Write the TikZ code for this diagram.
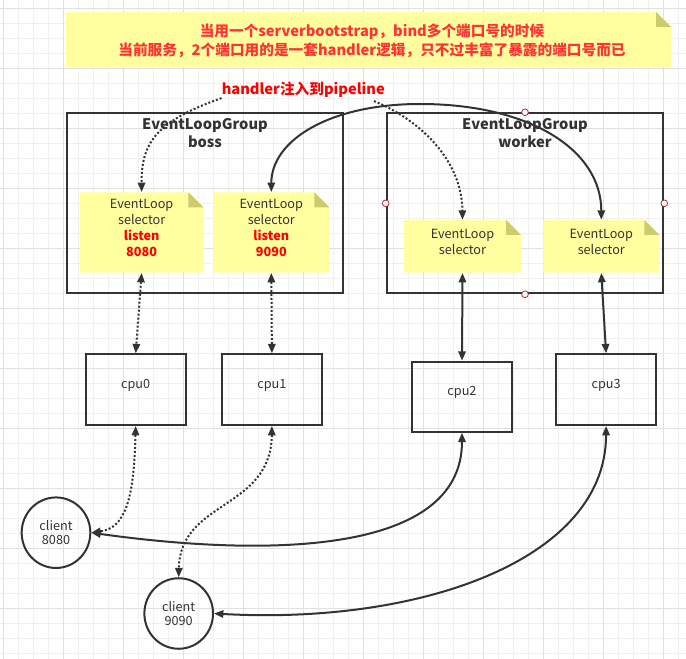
\documentclass[tikz,border=0pt]{standalone}
\usepackage{fontspec}
\setmainfont{Noto Sans CJK SC}
\usetikzlibrary{arrows.meta,shapes.geometric,fit,calc}
\definecolor{notefill}{HTML}{FFFFA0}
\definecolor{foldfill}{HTML}{CCCC6E}
\definecolor{inkc}{HTML}{333333}
\definecolor{topred}{HTML}{FF3333}
\definecolor{lred}{HTML}{FF0000}
\definecolor{gridminor}{HTML}{F0F0F0}
\definecolor{gridmajor}{HTML}{E0E0E0}
\definecolor{handlec}{HTML}{B03030}
\newcommand\notebg[5]{%
  \fill[notefill] (#1,#2) -- (#3-#5,#2) -- (#3,#2+#5) -- (#3,#4) -- (#1,#4) -- cycle;
  \fill[foldfill] (#3-#5,#2) -- (#3-#5,#2+#5) -- (#3,#2+#5) -- cycle;}
\tikzset{
  lk/.style={draw=inkc, line width=1.5pt},
  both/.style={lk, {Triangle[length=7pt,width=5.5pt]}-{Triangle[length=7pt,width=5.5pt]}},
  fwd/.style={lk, -{Triangle[length=7pt,width=5.5pt]}},
  dotline/.style={dash pattern=on 1.5pt off 1.5pt},
  body/.style={font=\fontsize{9.5}{12}\selectfont, text=inkc, align=center},
  grptitle/.style={font=\fontsize{11}{13.5}\selectfont\bfseries, text=inkc, align=center, inner sep=0pt},
  redbold/.style={font=\fontsize{11}{14.25}\selectfont\bfseries, inner sep=0pt, align=center},
  boxline/.style={draw=inkc, line width=1.5pt, inner sep=0pt},
  cpubox/.style={boxline, body},
  client/.style={ellipse, draw=inkc, line width=1.5pt, inner sep=0pt, minimum width=51.5pt, minimum height=52.9pt, font=\fontsize{9.5}{11}\selectfont, text=inkc, align=center},
  notebox/.style={inner sep=0pt, body},
  handle/.style={draw=handlec, fill=white, line width=0.6pt}
}
\begin{document}
\begin{tikzpicture}[x=0.75pt,y=-0.75pt]
\useasboundingbox (0,0) rectangle (686,659);
\fill[white] (0,0) rectangle (686,659);
% grid
\foreach \i in {0,...,45} \draw[gridminor, line width=0.75pt] (3.3+15*\i,0) -- (3.3+15*\i,659);
\foreach \j in {0,...,43} \draw[gridminor, line width=0.75pt] (0,8.3+15*\j) -- (686,8.3+15*\j);
\foreach \i in {0,...,11} \draw[gridmajor, line width=0.75pt] (3.3+60*\i,0) -- (3.3+60*\i,659);
\foreach \j in {0,...,10} \draw[gridmajor, line width=0.75pt] (0,8.3+60*\j) -- (686,8.3+60*\j);

% top note
\notebg{66}{12}{671}{67}{15}
\node[fit={(66,12) (671,67)}, inner sep=0pt] (topnote) {};
\node[redbold, text=topred] (toptext) at (372,40.5) {当用一个serverbootstrap，bind多个端口号的时候\\当前服务，2个端口用的是一套handler逻辑，只不过丰富了暴露的端口号而已};

% handler label
\node[redbold, text=lred, anchor=west] (hlabel) at (221.5,90) {handler注入到pipeline};

% groups
\node[fit={(67.3,113.3) (343.3,293.3)}, boxline] (boss) {};
\node[grptitle] (bosst) at (205,133.3) {EventLoopGroup\\boss};
\node[fit={(386.7,113.3) (663.3,293.3)}, boxline] (worker) {};
\node[grptitle] (workert) at (525,133.3) {EventLoopGroup\\worker};

% notes
\notebg{80}{192.3}{203.3}{272.7}{15}
\node[fit={(80,192.3) (203.3,272.7)}, notebox] (n1) {EventLoop\\selector\\{\bfseries\color{lred}listen}\\{\bfseries\color{lred}8080}};
\notebg{213.3}{192.3}{329.3}{272.7}{15}
\node[fit={(213.3,192.3) (329.3,272.7)}, notebox] (n2) {EventLoop\\selector\\{\bfseries\color{lred}listen}\\{\bfseries\color{lred}9090}};
\notebg{404}{220}{521}{272.7}{15}
\node[fit={(404,220) (521,272.7)}, notebox] (n3) {EventLoop\\selector};
\notebg{543.3}{220}{659.3}{272.7}{15}
\node[fit={(543.3,220) (659.3,272.7)}, notebox] (n4) {EventLoop\\selector};

% cpus
\node[fit={(85.7,354.3) (185.7,425)}, cpubox] (cpu0) {cpu0};
\node[fit={(222,354.3) (321.8,425)}, cpubox] (cpu1) {cpu1};
\node[fit={(412,361.7) (512,431.7)}, cpubox] (cpu2) {cpu2};
\node[fit={(556.3,354.3) (655.9,425)}, cpubox] (cpu3) {cpu3};

% clients
\node[client] (c8080) at (56,532.7) {client\\8080};
\node[client] (c9090) at (178.7,613.5) {client\\9090};

% connectors
\draw[fwd, dotline] (hlabel.south west) .. controls (160,120) and (141,140) .. (n1.north);
\draw[fwd, dotline] ($(hlabel.south east)+(-11,3)$) .. controls (420,120) and (462,160) .. (n3.north);
\draw[both] (n2.north) .. controls (271.3,140) and (330,104) .. (420,104) .. controls (530,104) and (601.3,150) .. (n4.north);

\draw[both, dotline] (n1.south) -- (cpu0.north);
\draw[both, dotline] (n2.south) -- (cpu1.north);
\draw[both] (n3.south) -- (cpu2.north);
\draw[both] (n4.south) -- (cpu3.north);

\draw[both, dotline] (cpu0.south) .. controls (134,500) and (125,528) .. (c8080.east);
\draw[both, dotline] (cpu1.south) .. controls (271,510) and (180,500) .. (c9090.north);
\draw[both] (cpu2.south) .. controls (462,560) and (250,555) .. (c8080.east);
\draw[both] (cpu3.south) .. controls (606,560) and (420,625) .. (c9090.east);

% selection handles on worker group
\foreach \a in {north,west,east,south} \draw[handle] (worker.\a) circle[radius=2.5pt];
\end{tikzpicture}
\end{document}
